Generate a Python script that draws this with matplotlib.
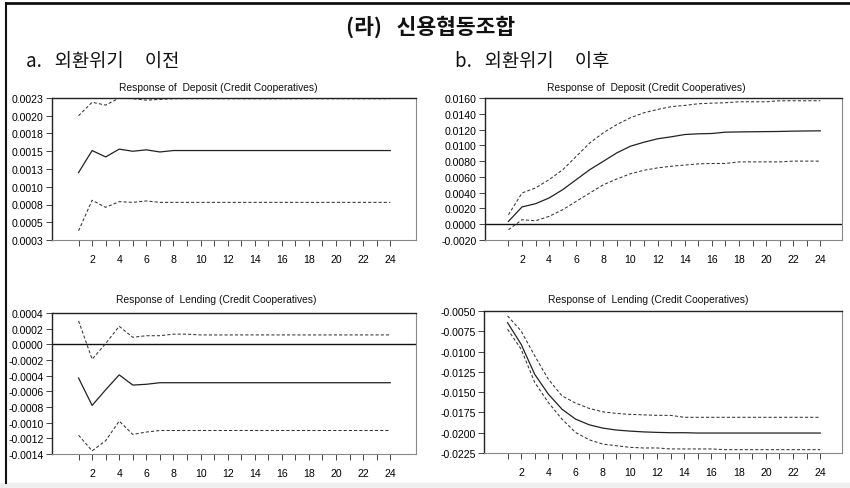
import matplotlib
matplotlib.use("Agg")
import matplotlib.pyplot as plt
from matplotlib.lines import Line2D
from matplotlib.patches import Rectangle
from matplotlib import font_manager

# ---------------- data ----------------
periods = list(range(1, 25))

# a. before the crisis -- deposit response
dep_pre_mid = [0.00120, 0.00151, 0.00142, 0.00153, 0.00150, 0.00152, 0.00149, 0.00151,
               0.00151, 0.00151, 0.00151, 0.00151, 0.00151, 0.00151, 0.00151, 0.00151,
               0.00151, 0.00151, 0.00151, 0.00151, 0.00151, 0.00151, 0.00151, 0.00151]
dep_pre_hi = [0.00200, 0.00219, 0.00215, 0.00225, 0.00224, 0.00222, 0.00223, 0.00224,
              0.00224, 0.00224, 0.00224, 0.00224, 0.00224, 0.00224, 0.00224, 0.00224,
              0.00224, 0.00224, 0.00224, 0.00224, 0.00224, 0.00224, 0.00224, 0.00224]
dep_pre_lo = [0.00038, 0.00081, 0.00071, 0.00079, 0.00078, 0.00080, 0.00078, 0.00078,
              0.00078, 0.00078, 0.00078, 0.00078, 0.00078, 0.00078, 0.00078, 0.00078,
              0.00078, 0.00078, 0.00078, 0.00078, 0.00078, 0.00078, 0.00078, 0.00078]

# a. before the crisis -- lending response
len_pre_mid = [-0.00043, -0.00078, -0.00058, -0.00039, -0.00052, -0.00051, -0.00049, -0.00049,
               -0.00049, -0.00049, -0.00049, -0.00049, -0.00049, -0.00049, -0.00049, -0.00049,
               -0.00049, -0.00049, -0.00049, -0.00049, -0.00049, -0.00049, -0.00049, -0.00049]
len_pre_hi = [0.00030, -0.00019, 0.00001, 0.00023, 0.00009, 0.00011, 0.00011, 0.00013,
              0.00013, 0.00012, 0.00012, 0.00012, 0.00012, 0.00012, 0.00012, 0.00012,
              0.00012, 0.00012, 0.00012, 0.00012, 0.00012, 0.00012, 0.00012, 0.00012]
len_pre_lo = [-0.00116, -0.00136, -0.00123, -0.00098, -0.00115, -0.00112, -0.00110, -0.00110,
              -0.00110, -0.00110, -0.00110, -0.00110, -0.00110, -0.00110, -0.00110, -0.00110,
              -0.00110, -0.00110, -0.00110, -0.00110, -0.00110, -0.00110, -0.00110, -0.00110]

# b. after the crisis -- deposit response
dep_post_mid = [0.00036, 0.00219, 0.00260, 0.00333, 0.00438, 0.00565, 0.00692, 0.00798,
                0.00905, 0.00989, 0.01040, 0.01083, 0.01108, 0.01137, 0.01146, 0.01150,
                0.01167, 0.01170, 0.01172, 0.01174, 0.01176, 0.01180, 0.01182, 0.01184]
dep_post_hi = [0.00120, 0.00396, 0.00460, 0.00565, 0.00690, 0.00860, 0.01030, 0.01160,
               0.01264, 0.01350, 0.01413, 0.01455, 0.01490, 0.01506, 0.01527, 0.01535,
               0.01540, 0.01552, 0.01552, 0.01552, 0.01565, 0.01565, 0.01565, 0.01565]
dep_post_lo = [-0.00070, 0.00057, 0.00044, 0.00100, 0.00184, 0.00290, 0.00396, 0.00500,
               0.00574, 0.00640, 0.00684, 0.00714, 0.00735, 0.00750, 0.00765, 0.00770,
               0.00770, 0.00790, 0.00790, 0.00790, 0.00790, 0.00800, 0.00800, 0.00800]

# b. after the crisis -- lending response
len_post_mid = [-0.00643, -0.00910, -0.01280, -0.01524, -0.01709, -0.01832, -0.01902, -0.01943,
                -0.01967, -0.01980, -0.01990, -0.01996, -0.02000, -0.02000, -0.02004, -0.02004,
                -0.02004, -0.02004, -0.02004, -0.02004, -0.02004, -0.02004, -0.02004, -0.02004]
len_post_hi = [-0.00560, -0.00746, -0.01053, -0.01340, -0.01545, -0.01635, -0.01700, -0.01742,
               -0.01762, -0.01774, -0.01780, -0.01786, -0.01786, -0.01810, -0.01810, -0.01810,
               -0.01810, -0.01810, -0.01810, -0.01810, -0.01810, -0.01810, -0.01810, -0.01810]
len_post_lo = [-0.00725, -0.00970, -0.01380, -0.01627, -0.01832, -0.01996, -0.02087, -0.02140,
               -0.02160, -0.02180, -0.02188, -0.02188, -0.02200, -0.02200, -0.02200, -0.02200,
               -0.02209, -0.02209, -0.02209, -0.02209, -0.02209, -0.02209, -0.02209, -0.02209]

# y-axis ticks and their printed labels
dep_pre_ticks = [0.00025, 0.0005, 0.00075, 0.0010, 0.00125, 0.0015, 0.00175, 0.0020, 0.00225]
dep_pre_labels = ["0.0003", "0.0005", "0.0008", "0.0010", "0.0013", "0.0015", "0.0018", "0.0020", "0.0023"]
len_pre_ticks = [-0.0014, -0.0012, -0.0010, -0.0008, -0.0006, -0.0004, -0.0002, 0.0, 0.0002, 0.0004]
len_pre_labels = ["-0.0014", "-0.0012", "-0.0010", "-0.0008", "-0.0006", "-0.0004", "-0.0002",
                  "0.0000", "0.0002", "0.0004"]
dep_post_ticks = [-0.002, 0.0, 0.002, 0.004, 0.006, 0.008, 0.010, 0.012, 0.014, 0.016]
dep_post_labels = ["-0.0020", "0.0000", "0.0020", "0.0040", "0.0060", "0.0080", "0.0100",
                   "0.0120", "0.0140", "0.0160"]
len_post_ticks = [-0.0225, -0.0200, -0.0175, -0.0150, -0.0125, -0.0100, -0.0075, -0.0050]
len_post_labels = ["-0.0225", "-0.0200", "-0.0175", "-0.0150", "-0.0125", "-0.0100", "-0.0075", "-0.0050"]

x_labels = [str(p) if p % 2 == 0 else "" for p in periods]

title_main = "(라)   신용협동조합"
title_a = "a.   외환위기     이전"
title_b = "b.   외환위기     이후"
dep_title = "Response of  Deposit (Credit Cooperatives)"
len_title = "Response of  Lending (Credit Cooperatives)"

# ---------------- fonts ----------------
available = {f.name for f in font_manager.fontManager.ttflist}
narrow = "Liberation Sans Narrow" if "Liberation Sans Narrow" in available else "Liberation Sans"
kr = ["Noto Sans CJK KR", "DejaVu Sans"]

W, H = 850, 489
fig = plt.figure(figsize=(W / 100, H / 100), dpi=100)


def box(left, top, right, bottom):
    return [left / W, 1 - bottom / H, (right - left) / W, (bottom - top) / H]


def panel(rect, xlim, mid, hi, lo, ticks, labels, ylim, zero=False):
    ax = fig.add_axes(box(*rect))
    ax.set_xlim(*xlim)
    ax.set_ylim(*ylim)
    if zero:
        ax.axhline(0, color="#111111", lw=1.0, zorder=1)
    ax.plot(periods, hi, color="#333333", lw=0.75, ls=(0, (3, 2)), zorder=2)
    ax.plot(periods, lo, color="#333333", lw=0.75, ls=(0, (3, 2)), zorder=2)
    ax.plot(periods, mid, color="#222222", lw=0.9, zorder=3)
    ax.set_xticks(periods)
    ax.set_xticklabels(x_labels)
    ax.set_yticks(ticks)
    ax.set_yticklabels(labels)
    ax.tick_params(axis="both", direction="out", length=4, width=0.7, color="#444444",
                   labelsize=7.6, pad=2)
    for lab in ax.get_xticklabels() + ax.get_yticklabels():
        lab.set_family(narrow)
    ax.tick_params(axis="x", pad=6)
    for side in ("top", "left"):
        ax.spines[side].set_color("#222222")
        ax.spines[side].set_linewidth(1.0)
    for side in ("right", "bottom"):
        ax.spines[side].set_color("#888888")
        ax.spines[side].set_linewidth(0.8)
    return ax


left_x = (-0.96, 25.9)
right_x = (-0.73, 25.6)

panel((52, 99, 416, 241), left_x, dep_pre_mid, dep_pre_hi, dep_pre_lo,
      dep_pre_ticks, dep_pre_labels, (0.00025, 0.00225))
panel((52, 314, 416, 455), left_x, len_pre_mid, len_pre_hi, len_pre_lo,
      len_pre_ticks, len_pre_labels, (-0.0014, 0.0004), zero=True)
panel((485, 99, 842, 241), right_x, dep_post_mid, dep_post_hi, dep_post_lo,
      dep_post_ticks, dep_post_labels, (-0.002, 0.016), zero=True)
panel((484, 312, 842, 454), right_x, len_post_mid, len_post_hi, len_post_lo,
      len_post_ticks, len_post_labels, (-0.0225, -0.005))

# panel headings
for (cx, cy, txt) in [(218, 88, dep_title), (646, 88, dep_title),
                      (216, 300, len_title), (648, 300, len_title)]:
    fig.text(cx / W, 1 - cy / H, txt, ha="center", va="center",
             fontsize=7.4, family=narrow, color="#111111")

# headings
fig.text(431 / W, 1 - 27 / H, title_main, ha="center", va="center",
         fontsize=15.5, fontweight="bold", family=kr, color="#111111")
fig.text(26 / W, 1 - 61 / H, title_a, ha="left", va="center",
         fontsize=13.5, family=kr, color="#111111")
fig.text(455 / W, 1 - 61 / H, title_b, ha="left", va="center",
         fontsize=13.5, family=kr, color="#111111")

# outer frame
fig.add_artist(Line2D([6 / W, 6 / W], [1 - 4 / H, 1 - 484 / H], transform=fig.transFigure,
                      color="#111111", lw=1.5))
fig.add_artist(Line2D([6 / W, 1.0], [1 - 4 / H, 1 - 4 / H], transform=fig.transFigure,
                      color="#111111", lw=2.0))
fig.add_artist(Rectangle((0, 0), 1, 5 / H, transform=fig.transFigure,
                         facecolor="#eeeeee", edgecolor="none"))

fig.savefig("out.png", dpi=100)
